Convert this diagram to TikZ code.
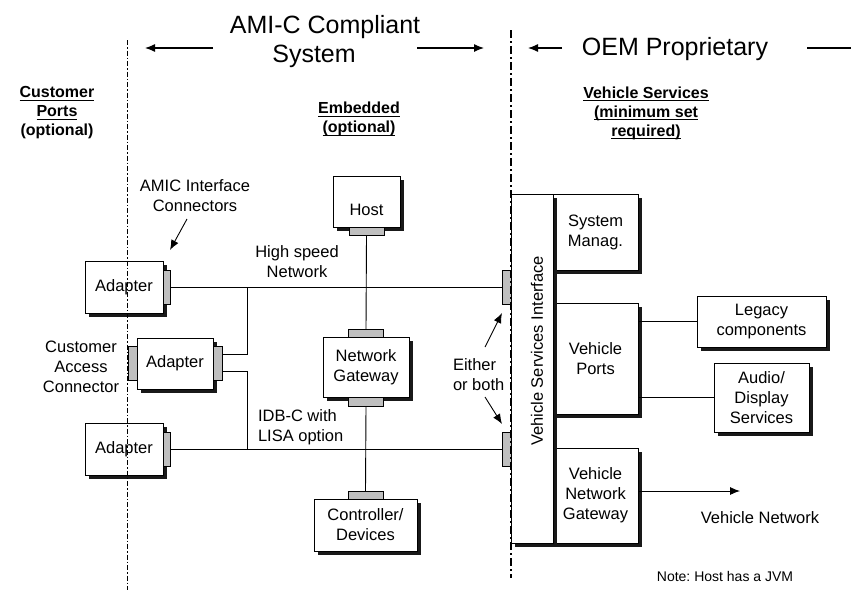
\documentclass[tikz,border=0pt]{standalone}
\usepackage{fontspec}
\setmainfont{Liberation Sans}
\usetikzlibrary{positioning,shadows,arrows.meta}
\frenchspacing
\newcommand\ulword[1]{\setbox0=\hbox{#1}\rlap{\rule[-3.2pt]{\wd0}{1.2pt}}\box0}
\tikzset{
  >={Latex[length=10pt,width=8pt]},
  inner sep=0pt,
  outer sep=0pt,
  lbl/.style={font=\fontsize{16.5}{20}\selectfont, align=center},
  hdr/.style={font=\bfseries\fontsize{16}{19}\selectfont, align=center},
  bigtitle/.style={font=\fontsize{25}{30}\selectfont},
  block/.style 2 args={lbl, draw, fill=white, line width=0.8pt,
    minimum width=#1pt, minimum height=#2pt,
    drop shadow={shadow xshift=3.5pt, shadow yshift=-3.5pt, fill=black!90, opacity=1}},
  plug/.style 2 args={draw, fill=black!25, line width=0.6pt,
    minimum width=#1pt, minimum height=#2pt},
  wire/.style={line width=0.9pt},
  custdivider/.style={line width=1pt, dash pattern=on 5pt off 2pt on 1.5pt off 2pt},
  oemdivider/.style={line width=2.2pt, dash pattern=on 8pt off 3pt on 2pt off 3pt}
}
\begin{document}
\begin{tikzpicture}[x=1pt,y=-1pt]
  \useasboundingbox (0,0) rectangle (851,590);

  % headings
  \node[bigtitle, anchor=base] (amictitle) at (325,33) {AMI-C Compliant};
  \node[bigtitle, anchor=base] (systitle) at (314,62) {System};
  \node[bigtitle, anchor=base] (oemtitle) at (675,55) {OEM Proprietary};
  \node[hdr] (custhdr) at (57,113) {\ulword{Customer}\\\ulword{Ports}\\(optional)};
  \node[hdr] (embhdr) at (359,119) {\ulword{Embedded}\\\ulword{(optional)}};
  \node[hdr] (vshdr) at (646,113) {\ulword{Vehicle Services}\\\ulword{(minimum set}\\\ulword{required)}};

  \coordinate (amicL1) at (213,48);
  \coordinate (amicL2) at (145,48);
  \coordinate (amicR1) at (417,48);
  \coordinate (amicR2) at (484,48);
  \coordinate (oemL1) at (562,48);
  \coordinate (oemL2) at (528,48);
  \coordinate (oemR1) at (807,48);
  \coordinate (oemR2) at (851,48);
  \draw[->, line width=1.2pt] (amicL1) -- (amicL2);
  \draw[->, line width=1.2pt] (amicR1) -- (amicR2);
  \draw[->, line width=1.2pt] (oemL1) -- (oemL2);
  \draw[line width=1.2pt] (oemR1) -- (oemR2);

  % customer side adapters
  \node[block={78}{52}] (adapterA) at (124,287) {Adapter};
  \node[plug={7}{34}, right=0pt of adapterA] (plugA) {};
  \node[block={76}{51}] (adapterB) at (175,363.5) {Adapter};
  \node[plug={9}{34}, left=0pt of adapterB] (plugBL) {};
  \node[plug={9}{34}, right=0pt of adapterB] (plugBR) {};
  \node[block={78}{52}] (adapterC) at (124,449) {Adapter};
  \node[plug={7}{34}, right=0pt of adapterC] (plugC) {};

  \coordinate (custTop) at (127,40);
  \coordinate (custBot) at (127,590);
  \draw[custdivider] (custTop) -- (custBot);

  % embedded
  \node[block={67}{51}, text height=28pt, text depth=0pt] (host) at (366.5,201.5) {Host};
  \node[plug={35}{8}, below=0pt of host] (plugH) {};
  \node[block={86}{60}] (gateway) at (366,367) {Network\\Gateway};
  \node[plug={35}{8}, above=0pt of gateway] (plugGT) {};
  \node[plug={35}{9}, below=0pt of gateway] (plugGB) {};
  \node[block={103}{52}] (controller) at (365.5,525) {Controller/\\Devices};
  \node[plug={35}{8}, above=0pt of controller] (plugCD) {};

  % vehicle services
  \node[block={85}{76}] (sysman) at (595.5,232) {System\\Manag.};
  \node[block={85}{111}] (vports) at (595.5,358.5) {Vehicle\\Ports};
  \node[block={85}{95}] (vng) at (595.5,495.5) {Vehicle\\Network\\Gateway};
  \node[block={42}{349}] (vsi) at (532,368.5) {};
  \node[plug={9}{34}] (plugV1) at (506.5,287) {};
  \node[plug={9}{34}] (plugV2) at (506.5,449) {};
  \node[block={129}{51}] (legacy) at (761.5,321.5) {Legacy\\components};
  \node[block={95}{69}] (audio) at (761.5,397.5) {Audio/\\Display\\Services};

  \coordinate (oemTop) at (511,30);
  \coordinate (oemBot) at (511,578);
  \draw[oemdivider] (oemTop) -- (oemBot);

  % networks
  \coordinate (hsJoin) at (247,287);
  \coordinate (idbJoin) at (247,449);
  \draw[wire] (plugA.east) -- (plugV1.west);
  \draw[wire] (plugC.east) -- (plugV2.west);
  \draw[wire] ([yshift=9pt]plugBR.east) -| (hsJoin);
  \draw[wire] ([yshift=-8pt]plugBR.east) -| (idbJoin);
  \draw[wire] (plugH.south) -- (plugGT.north);
  \draw[wire] (plugGB.south) -- (plugCD.north);
  \draw[wire] (vports.east |- legacy.west) -- (legacy.west);
  \draw[wire] (vports.east |- audio.west) -- (audio.west);
  \coordinate (vnet) at (740,491);
  \draw[wire, ->] (vng.east |- vnet) -- (vnet);

  % labels
  \node[lbl] (amiclbl) at (195,196) {AMIC Interface\\Connectors};
  \coordinate (amicFrom) at (187,219);
  \coordinate (amicTo) at (170,250);
  \draw[wire, ->] (amicFrom) -- (amicTo);
  \node[lbl] (accesslbl) at (81,367) {Customer\\Access\\Connector};
  \node[lbl] (hslbl) at (297,262) {High speed\\Network};
  \node[lbl, align=left, anchor=west] (idblbl) at (258,427) {IDB-C with\\LISA option};
  \node[lbl, align=left, anchor=west] (eitherlbl) at (453,374.5) {Either\\or both};
  \coordinate (eitherUpFrom) at (485,347);
  \coordinate (eitherUpTo) at (502,313);
  \coordinate (eitherDnFrom) at (485,397);
  \coordinate (eitherDnTo) at (502,424);
  \draw[wire, ->] (eitherUpFrom) -- (eitherUpTo);
  \draw[wire, ->] (eitherDnFrom) -- (eitherDnTo);
  \node[lbl, rotate=90] (vsilbl) at (537,351) {Vehicle Services Interface};
  \node[lbl, anchor=base] (vnetlbl) at (760,523) {Vehicle Network};
  \node[font=\fontsize{14}{16}\selectfont, anchor=base] (note) at (725,581) {Note: Host has a JVM};
\end{tikzpicture}
\end{document}
